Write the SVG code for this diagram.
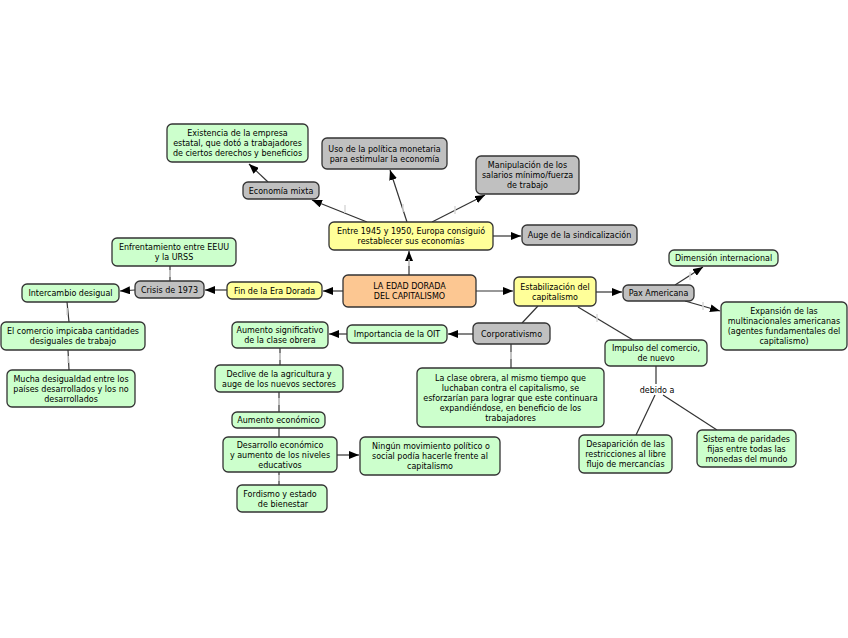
<svg xmlns="http://www.w3.org/2000/svg" width="848" height="638" viewBox="0 0 848 638">
<defs>
<marker id="ah" markerUnits="userSpaceOnUse" markerWidth="10" markerHeight="8" refX="10" refY="4" orient="auto">
<path d="M0,0 L10,4 L0,8 z" fill="#000"/>
</marker>
</defs>
<style>
.g{fill:#ccffcc;stroke:#333;stroke-width:1.3}
.y{fill:#ffff99;stroke:#333;stroke-width:1.3}
.s{fill:#c0c0c0;stroke:#333;stroke-width:1.3}
.o{fill:#fcc792;stroke:#333;stroke-width:1.3}
text{font-family:"DejaVu Sans","Verdana",sans-serif;font-size:8px;fill:#000;text-anchor:middle}
.c line{stroke:#333;stroke-width:1.2}
.c line.a{marker-end:url(#ah)}
.t line{stroke:#d8d8d8;stroke-width:1.5}
</style>
<rect width="848" height="638" fill="#fff"/>
<g id="connectors">
<g class="c">
<line class="a" x1="367" y1="222" x2="312" y2="200"/>
<line class="a" x1="268" y1="182" x2="249" y2="164"/>
<line class="a" x1="407" y1="222" x2="390" y2="170"/>
<line class="a" x1="432" y1="222" x2="485" y2="195"/>
<line class="a" x1="493" y1="236" x2="521" y2="236"/>
<line class="a" x1="409" y1="275" x2="409" y2="251"/>
<line class="a" x1="343" y1="291" x2="323" y2="291"/>
<line class="a" x1="227" y1="290" x2="205" y2="290"/>
<line class="a" x1="135" y1="290" x2="120" y2="291"/>
<line x1="170" y1="281" x2="170" y2="266"/>
<line x1="67" y1="302" x2="69" y2="322"/>
<line x1="68" y1="350" x2="69" y2="370"/>
<line class="a" x1="476" y1="291" x2="513" y2="291"/>
<line class="a" x1="596" y1="292" x2="622" y2="292"/>
<line class="a" x1="675" y1="285" x2="703" y2="267"/>
<line class="a" x1="685" y1="301" x2="720" y2="311"/>
<line x1="578" y1="307" x2="633" y2="340"/>
<line x1="538" y1="306" x2="522" y2="323"/>
<line class="a" x1="473" y1="334" x2="448" y2="334"/>
<line class="a" x1="347" y1="334" x2="329" y2="334"/>
<line x1="511" y1="344" x2="511" y2="368"/>
<line x1="280" y1="348" x2="280" y2="365"/>
<line x1="279" y1="392" x2="279" y2="412"/>
<line x1="279" y1="428" x2="279" y2="437"/>
<line class="a" x1="337" y1="455" x2="359" y2="455"/>
<line x1="279" y1="472" x2="279" y2="485"/>
<line x1="656" y1="366" x2="656" y2="384"/>
<line x1="655" y1="395" x2="636" y2="435"/>
<line x1="663" y1="395" x2="717" y2="430"/>
</g>
<g class="t">
<line x1="345" y1="205" x2="345" y2="213"/>
<line x1="403" y1="204" x2="403" y2="212"/>
<line x1="455" y1="206" x2="455" y2="214"/>
<line x1="409" y1="259" x2="409" y2="266"/>
<line x1="170" y1="270" x2="170" y2="277"/>
<line x1="67" y1="308" x2="67" y2="315"/>
<line x1="68" y1="356" x2="68" y2="363"/>
<line x1="690" y1="272" x2="690" y2="280"/>
<line x1="703" y1="302" x2="703" y2="310"/>
<line x1="597" y1="314" x2="597" y2="322"/>
<line x1="511" y1="352" x2="511" y2="359"/>
<line x1="280" y1="353" x2="280" y2="360"/>
<line x1="279" y1="398" x2="279" y2="405"/>
<line x1="279" y1="475" x2="279" y2="481"/>
</g>
</g>
<g id="n1"><rect class="g" x="167" y="124" width="141" height="38" rx="5"/><text x="237.5" y="136">Existencia de la empresa</text><text x="237.5" y="146">estatal, que dotó a trabajadores</text><text x="237.5" y="156">de ciertos derechos y beneficios</text></g>
<g id="n2"><rect class="s" x="243" y="182" width="76" height="17" rx="5"/><text x="281" y="193.5">Economía mixta</text></g>
<g id="n3"><rect class="s" x="322" y="138" width="125" height="31" rx="5"/><text x="384.5" y="151.5">Uso de la política monetaria</text><text x="384.5" y="161.5">para estimular la economía</text></g>
<g id="n4"><rect class="y" x="329" y="222" width="164" height="28" rx="5"/><text x="411" y="234">Entre 1945 y 1950, Europa consiguió</text><text x="411" y="244">restablecer sus economías</text></g>
<g id="n5"><rect class="s" x="476" y="156" width="103" height="38" rx="5"/><text x="527.5" y="168">Manipulación de los</text><text x="527.5" y="178">salarios mínimo/fuerza</text><text x="527.5" y="188">de trabajo</text></g>
<g id="n6"><rect class="s" x="522" y="225" width="115" height="20" rx="5"/><text x="579.5" y="238">Auge de la sindicalización</text></g>
<g id="n7"><rect class="g" x="112" y="238" width="124" height="28" rx="5"/><text x="174" y="250">Enfrentamiento entre EEUU</text><text x="174" y="260">y la URSS</text></g>
<g id="n8"><rect class="s" x="135" y="281" width="69" height="17" rx="5"/><text x="169.5" y="292.5">Crisis de 1973</text></g>
<g id="n9"><rect class="g" x="22" y="284" width="97" height="18" rx="5"/><text x="70.5" y="296">Intercambio desigual</text></g>
<g id="n10"><rect class="y" x="227" y="282" width="95" height="17" rx="5"/><text x="274.5" y="293.5">Fin de la Era Dorada</text></g>
<g id="n11"><rect class="o" x="343" y="275" width="133" height="32" rx="5"/><text x="409.5" y="289">LA EDAD DORADA</text><text x="409.5" y="299">DEL CAPITALISMO</text></g>
<g id="n12"><rect class="y" x="514" y="277" width="82" height="29" rx="5"/><text x="555" y="289.5">Estabilización del</text><text x="555" y="299.5">capitalismo</text></g>
<g id="n13"><rect class="s" x="623" y="285" width="71" height="16" rx="5"/><text x="658.5" y="296">Pax Americana</text></g>
<g id="n14"><rect class="g" x="669" y="250" width="109" height="16" rx="5"/><text x="723.5" y="261">Dimensión internacional</text></g>
<g id="n15"><rect class="g" x="721" y="302" width="126" height="48" rx="5"/><text x="784" y="314">Expansión de las</text><text x="784" y="324">multinacionales americanas</text><text x="784" y="334">(agentes fundamentales del</text><text x="784" y="344">capitalismo)</text></g>
<g id="n16"><rect class="g" x="605" y="340" width="102" height="26" rx="5"/><text x="656" y="351">Impulso del comercio,</text><text x="656" y="361">de nuevo</text></g>
<g id="n17"><rect class="s" x="473" y="323" width="77" height="21" rx="5"/><text x="511.5" y="336.5">Corporativismo</text></g>
<g id="n18"><rect class="g" x="347" y="325" width="100" height="18" rx="5"/><text x="397" y="337">Importancia de la OIT</text></g>
<g id="n19"><rect class="g" x="232" y="322" width="96" height="26" rx="5"/><text x="280" y="333">Aumento significativo</text><text x="280" y="343">de la clase obrera</text></g>
<g id="n20"><rect class="g" x="215" y="365" width="128" height="27" rx="5"/><text x="279" y="376.5">Declive de la agricultura y</text><text x="279" y="386.5">auge de los nuevos sectores</text></g>
<g id="n21"><rect class="g" x="232" y="412" width="93" height="16" rx="5"/><text x="278.5" y="423">Aumento económico</text></g>
<g id="n22"><rect class="g" x="223" y="437" width="114" height="35" rx="5"/><text x="280" y="447.5">Desarrollo económico</text><text x="280" y="457.5">y aumento de los niveles</text><text x="280" y="467.5">educativos</text></g>
<g id="n23"><rect class="g" x="360" y="437" width="140" height="38" rx="5"/><text x="431" y="449">Ningún movimiento político o</text><text x="430" y="459">social podía hacerle frente al</text><text x="430" y="469">capitalismo</text></g>
<g id="n24"><rect class="g" x="237" y="485" width="90" height="27" rx="5"/><text x="280" y="496.5">Fordismo y estado</text><text x="283" y="506.5">de bienestar</text></g>
<g id="n25"><rect class="g" x="417" y="368" width="187" height="59" rx="5"/><text x="510.5" y="380.5">La clase obrera, al mismo tiempo que</text><text x="510.5" y="390.5">luchaban contra el capitalismo, se</text><text x="510.5" y="400.5">esforzarían para lograr que este continuara</text><text x="510.5" y="410.5">expandiéndose, en beneficio de los</text><text x="510.5" y="420.5">trabajadores</text></g>
<g id="n26"><rect class="g" x="579" y="435" width="93" height="38" rx="5"/><text x="625.5" y="447">Desaparición de las</text><text x="625.5" y="457">restricciones al libre</text><text x="625.5" y="467">flujo de mercancías</text></g>
<g id="n27"><rect class="g" x="697" y="430" width="99" height="37" rx="5"/><text x="746.5" y="441.5">Sistema de paridades</text><text x="746.5" y="451.5">fijas entre todas las</text><text x="746.5" y="461.5">monedas del mundo</text></g>
<g id="n28"><rect class="g" x="1" y="322" width="144" height="28" rx="5"/><text x="73" y="334">El comercio impicaba cantidades</text><text x="73" y="344">desiguales de trabajo</text></g>
<g id="n29"><rect class="g" x="7" y="370" width="128" height="37" rx="5"/><text x="71" y="381.5">Mucha desigualdad entre los</text><text x="71" y="391.5">países desarrollados y los no</text><text x="71" y="401.5">desarrollados</text></g>
<g id="l1"><text x="657" y="393">debido a</text></g>
</svg>
